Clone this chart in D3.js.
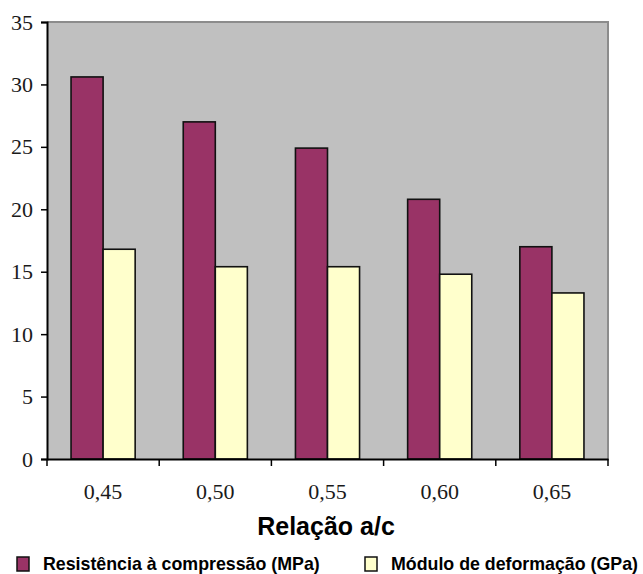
<!DOCTYPE html>
<html>
<head>
<meta charset="utf-8">
<script src="https://cdn.jsdelivr.net/npm/d3@7"></script>
<style>
  body { margin: 0; background: #fff; }
</style>
</head>
<body>
<div id="chart"></div>
<script>
// data
var ratios = ["0,45", "0,50", "0,55", "0,60", "0,65"];
var compressao = [30.6, 27.0, 24.9, 20.8, 17.0];
var modulo = [16.8, 15.4, 15.4, 14.8, 13.3];
var seriesNames = ["Resistência à compressão (MPa)", "Módulo de deformação (GPa)"];
var seriesColors = ["#993366", "#FFFFCC"];
var yTicks = [0, 5, 10, 15, 20, 25, 30, 35];

var width = 643, height = 574;
var plot = { left: 47, right: 608, top: 22, bottom: 459 };
var serif = "'Liberation Serif', 'Times New Roman', serif";
var sans = "'Liberation Sans', Arial, sans-serif";

var svg = d3.select("#chart").append("svg")
    .attr("width", width)
    .attr("height", height);

// scales
var x0 = d3.scaleBand()
    .domain(ratios)
    .range([plot.left, plot.right])
    .padding(0);

var x1 = d3.scaleBand()
    .domain([0, 1])
    .range([0, x0.bandwidth()])
    .paddingInner(0)
    .paddingOuter(0.75);

var y = d3.scaleLinear()
    .domain([0, 35])
    .range([plot.bottom, plot.top]);

// plot background
svg.append("rect")
    .attr("x", plot.left)
    .attr("y", plot.top)
    .attr("width", plot.right - plot.left)
    .attr("height", plot.bottom - plot.top)
    .attr("fill", "#c0c0c0");

// top and right border (gray)
svg.append("path")
    .attr("d", "M" + plot.left + "," + plot.top + "H" + plot.right + "V" + plot.bottom)
    .attr("fill", "none")
    .attr("stroke", "#8c8c8c")
    .attr("stroke-width", 2);

// bars
var rows = ratios.map(function(r, i) {
  return { ratio: r, values: [compressao[i], modulo[i]] };
});

var groups = svg.selectAll(".group").data(rows)
  .enter().append("g")
    .attr("class", "group")
    .attr("transform", function(d) { return "translate(" + x0(d.ratio) + ",0)"; });

groups.selectAll("rect")
    .data(function(d) { return d.values.map(function(v, k) { return { k: k, v: v }; }); })
  .enter().append("rect")
    .attr("x", function(d) { return x1(d.k); })
    .attr("y", function(d) { return y(d.v); })
    .attr("width", x1.bandwidth())
    .attr("height", function(d) { return y(0) - y(d.v); })
    .attr("fill", function(d) { return seriesColors[d.k]; })
    .attr("stroke", "#111")
    .attr("stroke-width", 1.6);

// y axis
var yAxis = d3.axisLeft(y)
    .tickValues(yTicks)
    .tickSize(6)
    .tickPadding(8)
    .tickFormat(d3.format("d"));

var gy = svg.append("g")
    .attr("transform", "translate(" + plot.left + ",0)")
    .call(yAxis);
gy.attr("font-family", null).attr("font-size", null);
gy.select(".domain").attr("stroke", "#000").attr("stroke-width", 2);
gy.selectAll(".tick line").attr("stroke", "#000").attr("stroke-width", 1.5);
gy.selectAll(".tick text")
    .style("font-family", serif)
    .style("font-size", "22px")
    .attr("fill", "#1a1a1a");

// x axis: ticks on the category boundaries, labels at centres
var xAxis = d3.axisBottom(x0)
    .tickSize(0)
    .tickPadding(24);

var gx = svg.append("g")
    .attr("transform", "translate(0," + plot.bottom + ")")
    .call(xAxis);
gx.attr("font-family", null).attr("font-size", null);
gx.select(".domain").attr("stroke", "#000").attr("stroke-width", 2);
gx.selectAll(".tick text")
    .style("font-family", serif)
    .style("font-size", "22px")
    .attr("fill", "#1a1a1a");

var bounds = ratios.map(function(r) { return x0(r); }).concat([plot.right]);
gx.selectAll(".bound").data(bounds)
  .enter().append("line")
    .attr("class", "bound")
    .attr("x1", function(d) { return d; })
    .attr("x2", function(d) { return d; })
    .attr("y1", 0)
    .attr("y2", 7)
    .attr("stroke", "#000")
    .attr("stroke-width", 1.5);

// axis title
svg.append("text")
    .attr("x", 326)
    .attr("y", 535)
    .attr("text-anchor", "middle")
    .style("font-family", sans)
    .style("font-weight", "bold")
    .style("font-size", "25px")
    .text("Relação a/c");

// legend
var legendX = [17, 365];
var legend = svg.selectAll(".legend").data(seriesNames)
  .enter().append("g")
    .attr("class", "legend")
    .attr("transform", function(d, i) { return "translate(" + legendX[i] + ",557)"; });

legend.append("rect")
    .attr("width", 12)
    .attr("height", 14)
    .attr("fill", function(d, i) { return seriesColors[i]; })
    .attr("stroke", "#111")
    .attr("stroke-width", 1.5);

legend.append("text")
    .attr("x", 26)
    .attr("y", 13)
    .style("font-family", sans)
    .style("font-weight", "bold")
    .style("font-size", "17.8px")
    .text(function(d) { return d; });
</script>
</body>
</html>
